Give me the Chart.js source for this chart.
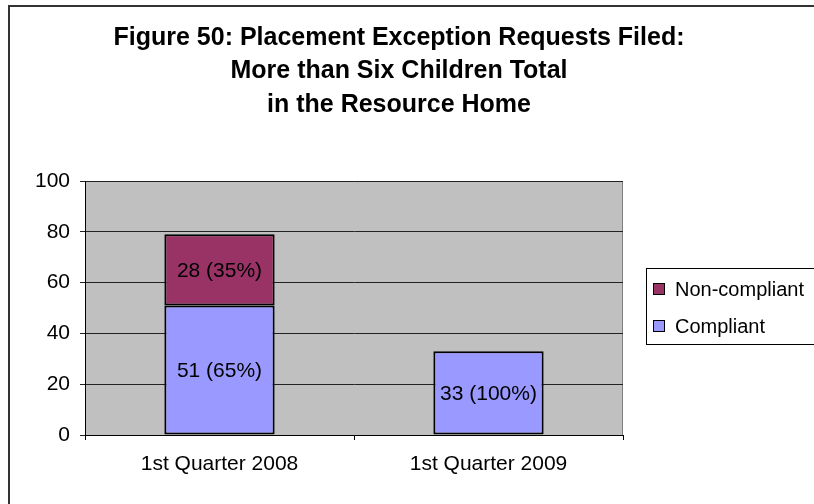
<!DOCTYPE html>
<html>
<head>
<meta charset="utf-8">
<title>Figure 50</title>
<script src="https://cdn.jsdelivr.net/npm/chart.js@4/dist/chart.umd.min.js"></script>
<style>
  html, body { margin: 0; padding: 0; background: #fff; }
  #wrap { width: 814px; height: 504px; }
</style>
</head>
<body>
<div id="wrap"><canvas id="chart" width="814" height="504"></canvas></div>
<script>
// dados do gráfico
const categories = ['1st Quarter 2008', '1st Quarter 2009'];
const compliant = [51, 33];
const nonCompliant = [28, null];
const yTicks = [0, 20, 40, 60, 80, 100];
const titleLines = [
  'Figure 50: Placement Exception Requests Filed:',
  'More than Six Children Total',
  'in the Resource Home'
];

const FONT = '"Liberation Sans", Arial, sans-serif';

// rótulo "n (x%)" de cada barra
function barLabel(i, value) {
  const total = (compliant[i] || 0) + (nonCompliant[i] || 0);
  return value + ' (' + Math.round(value / total * 100) + '%)';
}

// fundo cinza da área de plotagem
const plotBg = {
  id: 'plotBg',
  beforeDraw(chart) {
    const { ctx, chartArea: a } = chart;
    ctx.save();
    ctx.fillStyle = '#C0C0C0';
    ctx.fillRect(a.left, a.top, a.right - a.left, a.bottom - a.top);
    ctx.strokeStyle = '#808080';
    ctx.lineWidth = 1;
    ctx.strokeRect(a.left + 0.5, a.top + 0.5, a.right - a.left - 1, a.bottom - a.top);
    ctx.restore();
  }
};

// título, legenda, moldura e rótulos
const extras = {
  id: 'extras',
  afterDraw(chart) {
    const ctx = chart.ctx;
    ctx.save();

    // moldura externa
    ctx.strokeStyle = '#333';
    ctx.lineWidth = 2;
    ctx.beginPath();
    ctx.moveTo(9, 504);
    ctx.lineTo(9, 6);
    ctx.lineTo(814, 6);
    ctx.stroke();

    // título
    ctx.fillStyle = '#000';
    ctx.font = 'bold 25px ' + FONT;
    ctx.textAlign = 'center';
    ctx.textBaseline = 'middle';
    const ys = [38, 71.5, 105];
    titleLines.forEach((t, i) => ctx.fillText(t, 399, ys[i]));

    // rótulos dentro das barras
    ctx.font = '21px ' + FONT;
    chart.data.datasets.forEach((ds, di) => {
      const meta = chart.getDatasetMeta(di);
      meta.data.forEach((bar, i) => {
        const v = ds.data[i];
        if (v == null) return;
        ctx.fillText(barLabel(i, v), bar.x, (bar.y + bar.base) / 2 + 1);
      });
    });

    // legenda
    ctx.fillStyle = '#fff';
    ctx.fillRect(646, 268, 180, 76);
    ctx.strokeStyle = '#000';
    ctx.lineWidth = 1;
    ctx.strokeRect(646.5, 268.5, 180, 76);
    const items = [
      { text: 'Non-compliant', color: '#993366', y: 289 },
      { text: 'Compliant', color: '#9999FF', y: 326 }
    ];
    ctx.font = '20px ' + FONT;
    ctx.textAlign = 'left';
    items.forEach(it => {
      ctx.fillStyle = it.color;
      ctx.fillRect(653, it.y - 6, 12, 12);
      ctx.strokeStyle = '#000';
      ctx.strokeRect(653.5, it.y - 5.5, 11, 11);
      ctx.fillStyle = '#000';
      ctx.fillText(it.text, 675, it.y + 1);
    });

    ctx.restore();
  }
};

new Chart(document.getElementById('chart'), {
  type: 'bar',
  data: {
    labels: categories,
    datasets: [
      {
        label: 'Compliant',
        data: compliant,
        backgroundColor: '#9999FF',
        borderColor: '#000',
        borderWidth: 2,
        borderSkipped: false
      },
      {
        label: 'Non-compliant',
        data: nonCompliant,
        backgroundColor: '#993366',
        borderColor: '#000',
        borderWidth: 2,
        borderSkipped: false
      }
    ]
  },
  options: {
    responsive: false,
    animation: false,
    layout: { padding: { top: 181, left: 25, right: 191, bottom: 0 } },
    datasets: { bar: { categoryPercentage: 1, barPercentage: 0.41 } },
    plugins: {
      legend: { display: false },
      title: { display: false },
      tooltip: { enabled: false }
    },
    scales: {
      x: {
        stacked: true,
        afterFit(s) { s.height = 69; },
        grid: { display: true, drawOnChartArea: false, drawTicks: true, tickLength: 5, color: '#000', offset: true },
        border: { display: true, color: '#000', width: 1 },
        ticks: { color: '#000', padding: 12, font: { family: FONT, size: 21 } }
      },
      y: {
        stacked: true,
        min: 0,
        max: 100,
        afterFit(s) { s.width = 60; },
        afterBuildTicks(s) { s.ticks = yTicks.map(v => ({ value: v })); },
        grid: { color: '#222', lineWidth: 1, tickLength: 5 },
        border: { display: true, color: '#000', width: 1 },
        ticks: { color: '#000', padding: 10, font: { family: FONT, size: 21 } }
      }
    }
  },
  plugins: [plotBg, extras]
});
</script>
</body>
</html>
